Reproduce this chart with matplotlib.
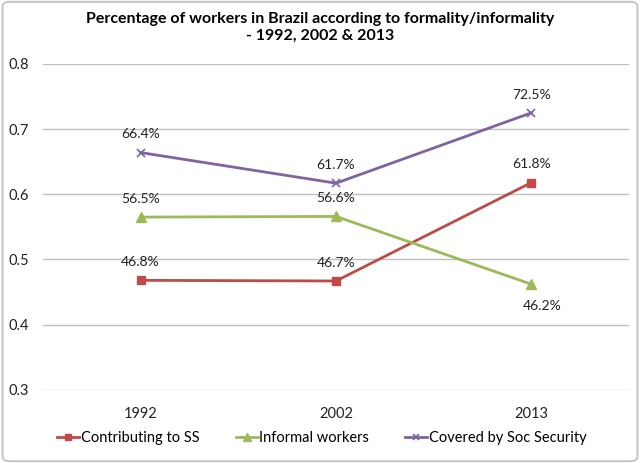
import matplotlib.pyplot as plt
from matplotlib.patches import FancyBboxPatch

years = ["1992", "2002", "2013"]
contributing = [0.468, 0.467, 0.618]
informal = [0.565, 0.566, 0.462]
covered = [0.664, 0.617, 0.725]

plt.rcParams["font.family"] = ["Lato", "DejaVu Sans"]

fig = plt.figure(figsize=(6.4, 4.63), dpi=100)
ax = fig.add_axes([0.067, 0.158, 0.916, 0.704])

x = range(len(years))
red = "#BE4B48"
green = "#9BBB59"
purple = "#8064A2"

ax.plot(x, contributing, color=red, marker="s", markersize=6, lw=2,
        label="Contributing to SS")
ax.plot(x, informal, color=green, marker="^", markersize=7, lw=2,
        label="Informal workers")
ax.plot(x, covered, color=purple, marker="x", markersize=6, mew=1.2, lw=2,
        label="Covered by Soc Security")

for vals in [contributing, informal, covered]:
    for i, v in enumerate(vals):
        if vals is informal and i == 2:
            ax.annotate(f"{v*100:.1f}%", (i, v), xytext=(8, -16),
                        textcoords="offset points", ha="center", va="center",
                        fontsize=10, color="#222222")
        else:
            ax.annotate(f"{v*100:.1f}%", (i, v), xytext=(0, 13),
                        textcoords="offset points", ha="center", va="center",
                        fontsize=10, color="#222222")

ax.set_xlim(-0.5, 2.5)
ax.set_ylim(0.3, 0.8)
ax.set_yticks([0.3, 0.4, 0.5, 0.6, 0.7, 0.8])
ax.set_yticklabels(["0.3", "0.4", "0.5", "0.6", "0.7", "0.8"])
ax.set_xticks(list(x))
ax.set_xticklabels(years)
ax.tick_params(length=0, labelsize=10.5, colors="#222222")
ax.tick_params(axis="y", pad=10)
ax.tick_params(axis="x", pad=12)
ax.grid(axis="y", color="#BFBFBF", lw=1)
ax.set_axisbelow(True)
for s in ax.spines.values():
    s.set_visible(False)

fig.suptitle("Percentage of workers in Brazil according to formality/informality\n- 1992, 2002 & 2013",
             y=0.975, fontsize=11.5, fontweight="bold", linespacing=1.3)

ax.legend(loc="upper center", bbox_to_anchor=(0.476, -0.085), ncol=3,
          frameon=False, fontsize=10.5, handlelength=1.5, handletextpad=0.1,
          columnspacing=2.5, markerscale=0.8)

border = FancyBboxPatch((0.004, 0.004), 0.992, 0.992, transform=fig.transFigure,
                        boxstyle="round,pad=0,rounding_size=0.01",
                        fill=False, edgecolor="#C8C8C8", lw=1.5)
fig.patches.append(border)

fig.savefig("out.png", dpi=100)
